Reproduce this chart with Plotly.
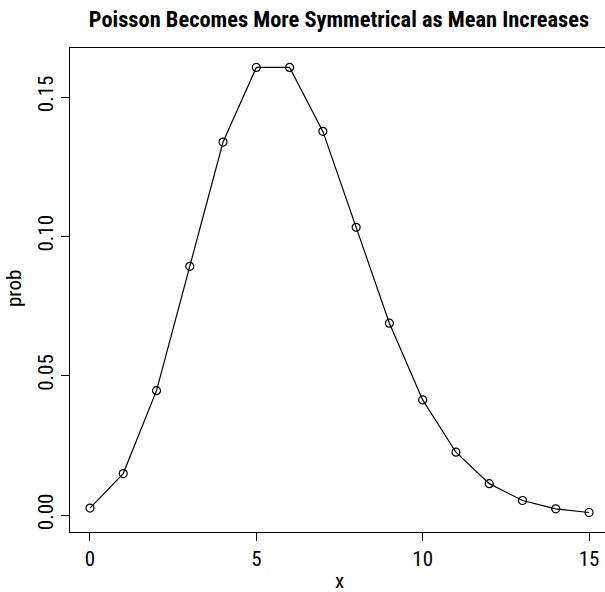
import plotly.graph_objects as go

x_vals = list(range(16))
prob = [0.00248, 0.01487, 0.04462, 0.08924, 0.13385, 0.16062, 0.16062, 0.13768,
        0.10326, 0.06884, 0.04130, 0.02253, 0.01126, 0.00520, 0.00223, 0.00089]
x_ticks = [0, 5, 10, 15]
y_ticks = [0.00, 0.05, 0.10, 0.15]
y_tick_text = ["0.00", "0.05", "0.10", "0.15"]

FONT = "Liberation Sans Narrow, Arial Narrow, Roboto Condensed, sans-serif"

W, H = 605, 592
L, T, B = 70, 48, 60
PW, PH = W - L, H - T - B

fig = go.Figure(go.Scatter(
    x=x_vals, y=prob, mode="lines+markers",
    line=dict(color="black", width=1.2),
    marker=dict(symbol="circle-open", size=8, color="black", line=dict(width=1.2)),
))

fig.update_layout(
    width=W, height=H,
    margin=dict(l=L, r=0, t=T, b=B),
    paper_bgcolor="white", plot_bgcolor="white",
    showlegend=False,
    font=dict(family=FONT, size=21, color="black"),
    title=dict(text="<b>Poisson Becomes More Symmetrical as Mean Increases</b>",
               x=339 / W, xanchor="center", y=1 - 19.5 / H, yanchor="middle",
               font=dict(family=FONT, size=22.4, color="black")),
    annotations=[
        dict(text="x", xref="paper", yref="paper", x=(339 - L) / PW, y=-(581 - (T + PH)) / PH,
             xanchor="center", yanchor="middle", showarrow=False,
             font=dict(family=FONT, size=21, color="black")),
        dict(text="prob", xref="paper", yref="paper", x=-(L - 14) / PW, y=(T + PH - 289) / PH,
             xanchor="center", yanchor="middle", showarrow=False, textangle=-90,
             font=dict(family=FONT, size=21, color="black")),
    ],
)
fig.update_xaxes(
    range=[-0.6, 15.48], tickvals=x_ticks, ticks="outside", ticklen=8, tickwidth=1,
    tickcolor="black", showline=True, linecolor="black", linewidth=1, mirror=True,
    showgrid=False, zeroline=False, automargin=False,
    tickfont=dict(family=FONT, size=21, color="black"),
)
fig.update_yaxes(
    range=[-0.0061, 0.1676], tickvals=y_ticks, ticktext=y_tick_text, tickangle=-90,
    ticks="outside", ticklen=8, tickwidth=1, tickcolor="black",
    showline=True, linecolor="black", linewidth=1, mirror=False,
    showgrid=False, zeroline=False, automargin=False,
    tickfont=dict(family=FONT, size=21, color="black"),
)

fig.write_html("out.html", config={"displayModeBar": False},
               post_script="document.body.style.margin='0';document.body.style.overflow='hidden';")
